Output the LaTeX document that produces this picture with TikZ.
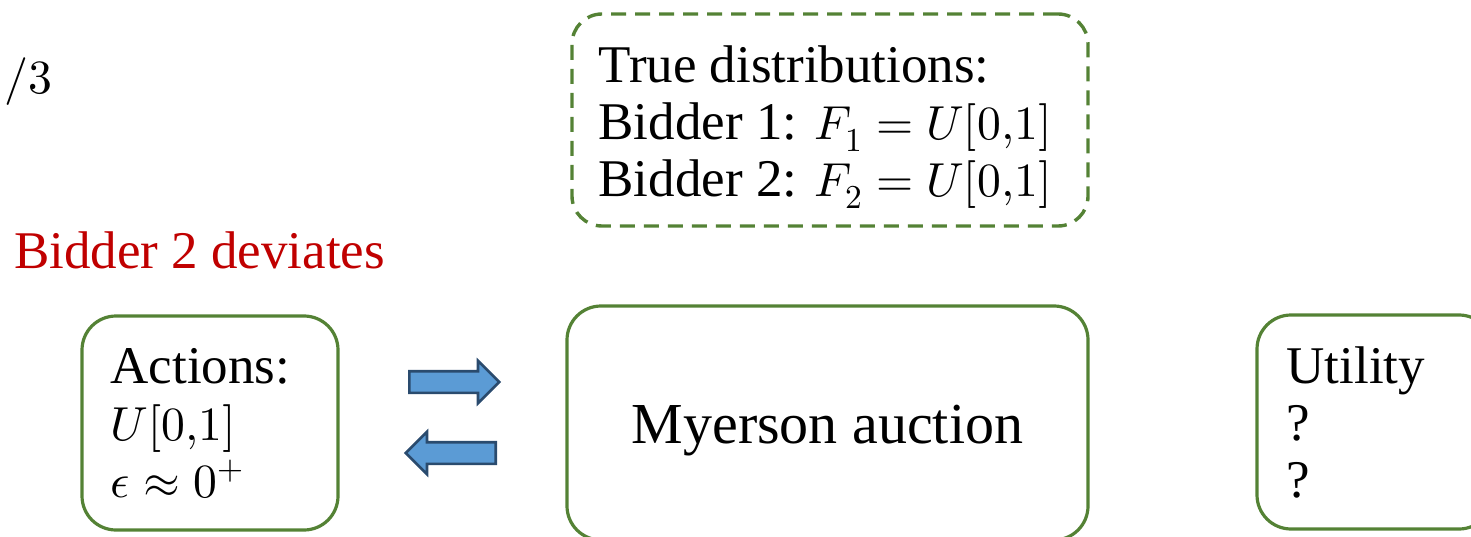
\documentclass[tikz,border=0pt]{standalone}
\usepackage{fontspec}
\usepackage{unicode-math}
\setmainfont{Liberation Serif}
\setmathfont{Latin Modern Math}[Scale=0.9]
\usetikzlibrary{shapes.arrows}
\definecolor{boxgreen}{HTML}{548235}
\definecolor{devred}{HTML}{C00000}
\definecolor{arrowfill}{HTML}{5B9BD5}
\definecolor{arrowline}{HTML}{2A4B6E}
\tikzset{
  gbox/.style={draw=boxgreen, line width=3.2pt, rounded corners=34pt, inner sep=0pt},
  dbox/.style={draw=boxgreen, line width=3.4pt, rounded corners=30pt, dash pattern=on 15pt off 9pt, inner sep=0pt},
  txt/.style={font=\fontsize{53}{57}\selectfont},
  btxt/.style={txt, align=left, anchor=west, inner sep=0pt},
  bigtxt/.style={font=\fontsize{58}{64}\selectfont},
  barrow/.style={single arrow, draw=arrowline, fill=arrowfill, line width=2.6pt,
    minimum height=90pt, minimum width=40pt, inner sep=0pt, inner ysep=9.5pt,
    single arrow head extend=10.5pt}
}
\begin{document}
\begin{tikzpicture}[x=1pt,y=-1pt]
\useasboundingbox (0,0) rectangle (1471,537);
% partial fraction at top-left
\node[txt, anchor=west, inner sep=0pt] (frac) at (4,82) {$/3$};
% true distributions
\node[dbox, minimum width=516pt, minimum height=212pt] (truedist) at (830,120) {};
\node[btxt] (truetxt) at ([xshift=28pt,yshift=-7pt]truedist.west)
  {True distributions:\\ Bidder 1: $F_1 = U[0{,}1]$\\ Bidder 2: $F_2 = U[0{,}1]$};
% deviation label
\node[txt, text=devred, anchor=west, inner sep=0pt] (dev) at (14,250) {Bidder 2 deviates};
% actions box
\node[gbox, minimum width=256pt, minimum height=214pt] (act) at (210,423) {};
\node[btxt] (acttxt) at ([xshift=30pt]act.west)
  {Actions:\\ $U[0{,}1]$\\ $\epsilon \approx 0^{+}$};
% Myerson auction
\node[gbox, minimum width=521pt, minimum height=234pt] (mye) at (827.5,423) {};
\node[bigtxt, inner sep=0pt] (myetxt) at ([yshift=-8pt]mye.center) {Myerson auction};
% utility box
\node[gbox, minimum width=236pt, minimum height=214pt] (util) at (1375,422) {};
\node[btxt] (utiltxt) at ([xshift=31pt]util.west) {Utility\\ ?\\ ?};
% arrows
\node[barrow, anchor=tail] (rarr) at (408,382) {};
\node[barrow, shape border rotate=180, anchor=tail] (larr) at (497,453) {};
\end{tikzpicture}
\end{document}
